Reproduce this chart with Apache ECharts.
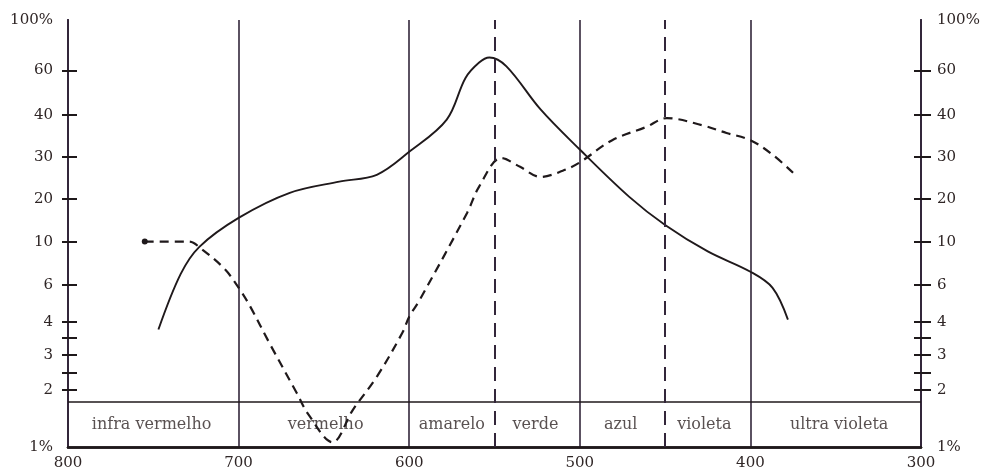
<!DOCTYPE html>
<html><head><meta charset="utf-8">
<script src="https://cdn.jsdelivr.net/npm/echarts@6/dist/echarts.min.js"></script>
<style>html,body{margin:0;background:#fff}#c{width:988px;height:476px}</style>
</head><body><div id="c"></div>
<script>
// x axis: wavelength (nm), reversed
const xTicks = [800, 700, 600, 500, 400, 300];
// y axis calibration of the (non-uniform) printed scale: value -> relative height (0..100)
const yScaleValues = [1, 2, 2.5, 3, 3.5, 4, 6, 10, 20, 30, 40, 60, 100];
const yScaleStops  = [0, 13.4, 17.5, 21.6, 25.6, 29.3, 38.0, 48.1, 58.1, 68.0, 77.8, 88.2, 100];
const yLabelValues = [1, 2, 3, 4, 6, 10, 20, 30, 40, 60, 100];
const yTickValues  = [2, 2.5, 3, 3.5, 4, 6, 10, 20, 30, 40, 60];

// colour bands
const bandNames   = ['infra vermelho', 'vermelho', 'amarelo', 'verde', 'azul', 'violeta', 'ultra violeta'];
const bandCenters = [751, 649, 575, 526, 476, 427, 348];
const dashedMarks = [550, 450];
const bandTop = 1.73;
const bandLabelLevel = 1.31;

// solid curve
const solidWl  = [747, 734, 723, 700, 670, 641, 619, 600, 578, 567, 559, 553, 543, 523, 500, 471, 450, 425, 400, 387, 378];
const solidPct = [3.75, 6.8, 9.4, 14.7, 21.2, 23.6, 25.2, 31, 38.7, 56, 65, 68.4, 62.5, 42, 31.5, 20.4, 13.1, 8.9, 7.0, 5.8, 4.1];
// dashed curve
const dashedWl  = [755, 729, 722, 708, 699, 693, 682, 666, 659, 645, 633, 619, 604, 600, 594, 566, 559, 546, 535, 523, 510, 500, 481, 461, 449, 428, 414, 400, 387, 375];
const dashedPct = [10, 10, 9.2, 7.2, 5.65, 4.7, 3.34, 1.93, 1.48, 1.06, 1.57, 2.36, 3.65, 4.23, 5.06, 16, 22.5, 29.6, 27.2, 24.7, 26.2, 28.4, 33.6, 36.8, 39.1, 37.2, 35.3, 33.6, 30.4, 25.7];

function pos(p) {
  for (let i = 0; i < yScaleValues.length - 1; i++) {
    const a = yScaleValues[i], b = yScaleValues[i + 1];
    if (p <= b || i === yScaleValues.length - 2) {
      const t = (Math.log(p) - Math.log(a)) / (Math.log(b) - Math.log(a));
      return yScaleStops[i] + t * (yScaleStops[i + 1] - yScaleStops[i]);
    }
  }
}
function labelOf(v) {
  let best = 0, d = 1e9;
  yScaleStops.forEach((s, i) => { if (Math.abs(s - v) < d) { d = Math.abs(s - v); best = i; } });
  const val = yScaleValues[best];
  return (val === 1 || val === 100) ? val + '%' : String(val);
}

const ink = '#1f191b';
const frame = '#33263a';
const textCol = '#2f2626';
const labelPos = yLabelValues.map(pos);
const tickPos = yTickValues.map(pos);

function yAx(position, inside, len, showLabel, margin) {
  return {
    type: 'value', min: 0, max: 100, position: position,
    axisLine: { show: true, lineStyle: { color: frame, width: 2 } },
    axisTick: { show: true, inside: inside, length: len, customValues: tickPos, lineStyle: { color: ink, width: 2 } },
    axisLabel: { show: showLabel, customValues: labelPos, formatter: labelOf, margin: margin,
      color: textCol, fontFamily: 'DejaVu Serif', fontSize: 15 },
    splitLine: { show: false }
  };
}

const chart = echarts.init(document.getElementById('c'), null, { renderer: 'canvas' });
chart.setOption({
  animation: false,
  backgroundColor: '#fff',
  grid: { left: 68, right: 67, top: 20, bottom: 29 },
  xAxis: [{
    type: 'value', min: 300, max: 800, interval: 100, inverse: true, position: 'bottom',
    axisLine: { show: true, lineStyle: { color: ink, width: 2.5 } },
    axisTick: { show: false },
    axisLabel: { color: textCol, fontFamily: 'DejaVu Serif', fontSize: 15, margin: 9,
      formatter: v => xTicks.indexOf(v) >= 0 ? String(v) : '' },
    splitLine: { show: true, lineStyle: { color: frame, width: 1.6 } }
  }, {
    type: 'value', min: 300, max: 800, inverse: true, position: 'top',
    axisLine: { show: true, lineStyle: { color: ink, width: 2.5 } },
    axisTick: { show: false }, axisLabel: { show: false }, splitLine: { show: false }
  }],
  yAxis: [
    yAx('left', false, 6, true, 15),
    yAx('left', true, 9, false, 8),
    yAx('right', false, 10, true, 16),
    yAx('right', true, 7, false, 8)
  ],
  series: [{
    type: 'line', name: 'solid', smooth: 0.35, symbol: 'none',
    data: solidWl.map((w, i) => [w, pos(solidPct[i])]),
    lineStyle: { color: ink, width: 1.9 },
    markLine: {
      silent: true, symbol: 'none', label: { show: false },
      lineStyle: { color: ink, width: 1.6, type: 'solid' },
      data: [{ yAxis: pos(bandTop) }].concat(dashedMarks.map(w => ({
        xAxis: w, lineStyle: { color: frame, width: 2, type: [14, 8] }
      })))
    }
  }, {
    type: 'line', name: 'dashed', smooth: 0.35, symbol: 'none', showSymbol: true,
    data: dashedWl.map((w, i) => i === 0
      ? { value: [w, pos(dashedPct[i])], symbol: 'circle', symbolSize: 6 }
      : [w, pos(dashedPct[i])]),
    itemStyle: { color: ink },
    lineStyle: { color: ink, width: 2.2, type: [9, 6] }
  }, {
    type: 'scatter', name: 'bands', symbolSize: 1, silent: true,
    itemStyle: { color: 'rgba(0,0,0,0)' },
    data: bandCenters.map((w, i) => ({ value: [w, pos(bandLabelLevel)], name: bandNames[i] })),
    label: { show: true, position: 'inside', formatter: '{b}', color: textCol,
      fontFamily: 'DejaVu Serif', fontSize: 16 }
  }]
});
</script></body></html>
